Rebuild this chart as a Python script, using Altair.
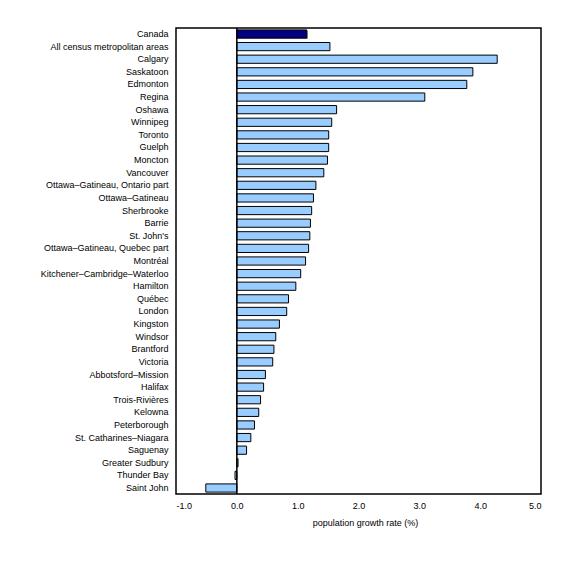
import altair as alt
import pandas as pd

cities = [
    "Canada", "All census metropolitan areas", "Calgary", "Saskatoon", "Edmonton",
    "Regina", "Oshawa", "Winnipeg", "Toronto", "Guelph", "Moncton", "Vancouver",
    "Ottawa–Gatineau, Ontario part", "Ottawa–Gatineau", "Sherbrooke", "Barrie",
    "St. John's", "Ottawa–Gatineau, Quebec part", "Montréal",
    "Kitchener–Cambridge–Waterloo", "Hamilton", "Québec", "London", "Kingston",
    "Windsor", "Brantford", "Victoria", "Abbotsford–Mission", "Halifax",
    "Trois-Rivières", "Kelowna", "Peterborough", "St. Catharines–Niagara",
    "Saguenay", "Greater Sudbury", "Thunder Bay", "Saint John",
]
growth = [
    1.15, 1.53, 4.28, 3.88, 3.78, 3.09, 1.64, 1.56, 1.51, 1.51, 1.49, 1.43,
    1.30, 1.26, 1.23, 1.21, 1.20, 1.18, 1.13, 1.05, 0.97, 0.85, 0.82, 0.70,
    0.64, 0.61, 0.59, 0.47, 0.44, 0.39, 0.36, 0.29, 0.23, 0.16, 0.02, -0.03, -0.51,
]
kind = ["Canada"] + ["CMA"] * (len(cities) - 1)
x_ticks = [-1, 0, 1, 2, 3, 4, 5]

df = pd.DataFrame({"city": cities, "growth": growth, "kind": kind})

FONT = "Liberation Sans"

y_enc = alt.Y("city:N", sort=cities, title=None,
              scale=alt.Scale(paddingInner=0.35, paddingOuter=0.15),
              axis=alt.Axis(ticks=False, domain=False, labelPadding=8,
                            labelFontSize=9, labelFont=FONT, labelColor="black",
                            labelLimit=300))
x_enc = alt.X("growth:Q", title="population growth rate (%)",
              scale=alt.Scale(domain=[-1, 5], nice=False, zero=False),
              axis=alt.Axis(values=x_ticks, ticks=False, domain=False,
                            labelExpr="replace(format(datum.value, '.1f'), '\u2212', '-')",
                            grid=False, labelPadding=7, labelFontSize=9,
                            labelFont=FONT, labelColor="black",
                            titleFont=FONT, titleFontSize=9, titleFontWeight="normal",
                            titleColor="black", titlePadding=8, titleX=189))

base = alt.Chart(df)

shadow = base.transform_filter(alt.datum.kind == "Canada").mark_bar(
    color="#8f8fbf", xOffset=1, yOffset=1
).encode(x=x_enc, y=y_enc)

bars = base.mark_bar(stroke="black", strokeWidth=1).encode(
    x=x_enc, y=y_enc,
    color=alt.Color("kind:N",
                    scale=alt.Scale(domain=["Canada", "CMA"], range=["#000080", "#99CCFF"]),
                    legend=None),
)

zero = alt.Chart(pd.DataFrame({"z": [0]})).mark_rule(color="black", strokeWidth=1.5).encode(
    x=alt.X("z:Q")
)

chart = alt.layer(shadow, bars, zero).properties(
    width=365, height=466,
    background="white",
    autosize=alt.AutoSizeParams(type="none"),
    padding={"left": 168, "top": 20, "right": 39, "bottom": 69},
).configure_view(stroke="black", strokeWidth=1.5, strokeOpacity=1)

chart.save("out.html", embed_options={"renderer": "svg", "actions": False})
